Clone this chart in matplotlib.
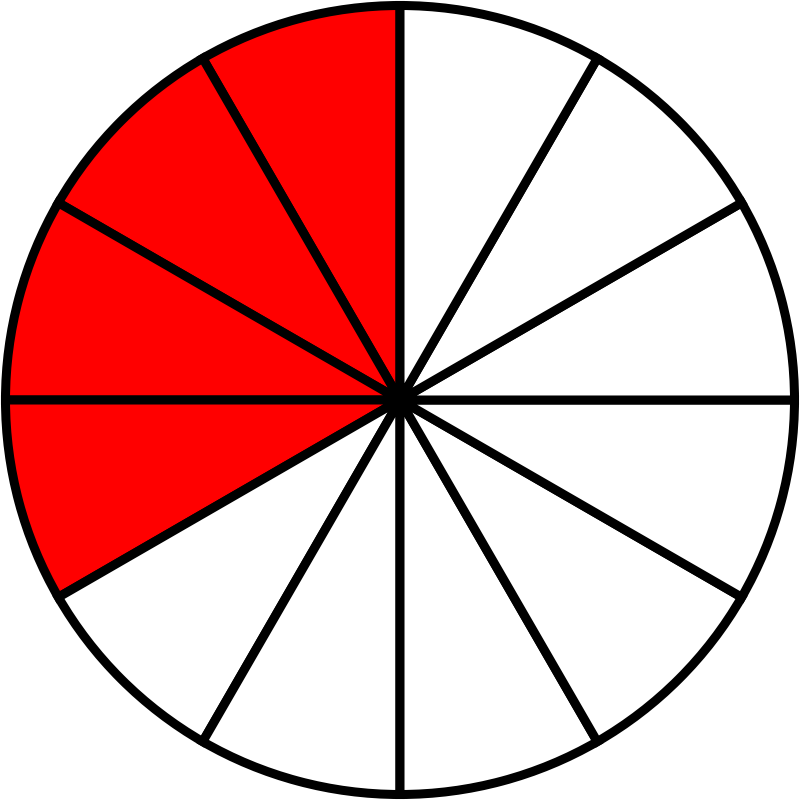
import matplotlib
matplotlib.use("Agg")
import matplotlib.pyplot as plt

# twelve equal parts, four of them shaded
sizes = [1] * 12
shaded = [True, True, True, True] + [False] * 8
colors = ["#ff0000" if s else "white" for s in shaded]

fig = plt.figure(figsize=(8, 8), dpi=100)
ax = fig.add_axes([0, 0, 1, 1])
ax.pie(sizes, colors=colors, startangle=90, counterclock=True, radius=1,
       wedgeprops=dict(edgecolor="black", linewidth=6.5, joinstyle="miter"))
lim = 400 / 394.5
ax.set_xlim(-lim, lim)
ax.set_ylim(-lim, lim)
ax.set_aspect("equal")
ax.axis("off")

fig.savefig("out.png", dpi=100, facecolor="white")
